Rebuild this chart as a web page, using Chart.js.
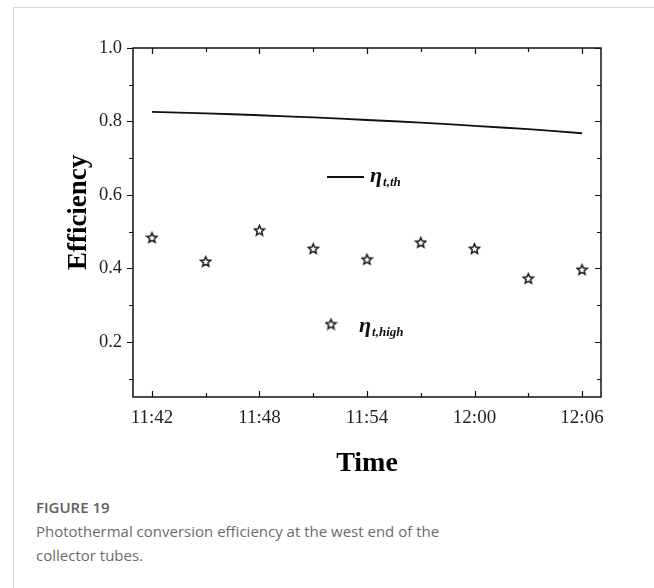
<!DOCTYPE html>
<html>
<head>
<meta charset="utf-8">
<script src="https://cdn.jsdelivr.net/npm/chart.js@4/dist/chart.umd.min.js"></script>
<style>
  body { margin: 0; background: #fff; width: 654px; height: 588px; overflow: hidden; position: relative; }
  #card { position: absolute; left: 13px; top: 7px; right: 0; bottom: 0; border-left: 1px solid #d9d9d9; border-top: 1px solid #d9d9d9; }
  #wrap { position: absolute; left: 0; top: 0; width: 640px; height: 480px; }
  .cap { position: absolute; left: 22px; top: 487px; font-family: "Open Sans", sans-serif; font-size: 15px; line-height: 24px; color: #6b6b6b; }
  .cap b { font-weight: 600; color: #5e5e5e; }
</style>
</head>
<body>
<div id="card">
  <div id="wrap"><canvas id="chart"></canvas></div>
  <div class="cap"><b>FIGURE 19</b><br>Photothermal conversion efficiency at the west end of the<br>collector tubes.</div>
</div>
<script>
// sample times (every 3 minutes)
const timeLabels = ['11:42', '11:45', '11:48', '11:51', '11:54', '11:57', '12:00', '12:03', '12:06'];
// eta_t,th (line)
const etaTh = [0.826, 0.822, 0.817, 0.811, 0.804, 0.797, 0.788, 0.779, 0.768];
// eta_t,high (stars)
const etaHigh = [0.484, 0.419, 0.504, 0.454, 0.425, 0.471, 0.454, 0.373, 0.397];

const xTickLabels = ['11:42', '11:48', '11:54', '12:00', '12:06'];
const yTickValues = [0.2, 0.4, 0.6, 0.8, 1.0];
const yMinorValues = [0.1, 0.3, 0.5, 0.7, 0.9];

// minutes after 11:42
const toMin = s => {
    const [h, m] = s.split(':').map(Number);
    return h * 60 + m - (11 * 60 + 42);
};
const fromMin = v => {
    const t = 11 * 60 + 42 + Math.round(v);
    return Math.floor(t / 60) + ':' + String(t % 60).padStart(2, '0');
};

// outlined five-point star used as marker
function makeStar(size) {
    const c = document.createElement('canvas');
    c.width = size; c.height = size;
    const g = c.getContext('2d');
    const cx = size / 2, cy = size / 2 + 0.5, R = size / 2 - 1.2, r = R * 0.45;
    g.beginPath();
    for (let i = 0; i < 10; i++) {
        const rad = i % 2 === 0 ? R : r;
        const a = -Math.PI / 2 + i * Math.PI / 5;
        const px = cx + rad * Math.cos(a), py = cy + rad * Math.sin(a);
        if (i === 0) g.moveTo(px, py); else g.lineTo(px, py);
    }
    g.closePath();
    g.fillStyle = '#fff';
    g.fill();
    g.strokeStyle = '#111';
    g.lineWidth = 1.4;
    g.stroke();
    return c;
}
const star = makeStar(13);

const serif = '"Liberation Serif", "Times New Roman", serif';

// box + ticks: left ticks outward, others inward
const framePlugin = {
    id: 'frame',
    afterDraw(chart) {
        const { ctx, chartArea: a, scales: { x, y } } = chart;
        ctx.save();
        ctx.strokeStyle = '#111';
        ctx.lineWidth = 1.5;
        ctx.strokeRect(a.left, a.top, a.right - a.left, a.bottom - a.top);
        ctx.lineWidth = 1.2;
        ctx.beginPath();
        const majors = xTickLabels.map(toMin);
        timeLabels.map(toMin).forEach(m => {
            const px = Math.round(x.getPixelForValue(m)) + 0.5;
            const len = majors.includes(m) ? 6 : 4;
            ctx.moveTo(px, a.bottom); ctx.lineTo(px, a.bottom - len);
            ctx.moveTo(px, a.top); ctx.lineTo(px, a.top + len);
        });
        const yTicks = yTickValues.map(v => [v, 6]).concat(yMinorValues.map(v => [v, 4]));
        yTicks.forEach(([v, len]) => {
            const py = Math.round(y.getPixelForValue(v)) + 0.5;
            ctx.moveTo(a.left, py); ctx.lineTo(a.left - len, py);
            ctx.moveTo(a.right, py); ctx.lineTo(a.right - len, py);
        });
        ctx.stroke();
        ctx.restore();
    }
};

// in-plot legend
const legendPlugin = {
    id: 'inlineLegend',
    afterDraw(chart) {
        const { ctx, chartArea: a } = chart;
        ctx.save();
        ctx.fillStyle = '#111';
        ctx.strokeStyle = '#111';
        ctx.lineWidth = 1.8;
        ctx.beginPath();
        ctx.moveTo(a.left + 194, a.top + 129);
        ctx.lineTo(a.left + 231, a.top + 129);
        ctx.stroke();
        ctx.drawImage(star, a.left + 198 - star.width / 2, a.top + 276 - star.height / 2);
        const label = (x0, y0, sub) => {
            ctx.font = 'italic bold 22px ' + serif;
            ctx.fillText('η', x0, y0);
            const w = ctx.measureText('η').width;
            ctx.font = 'italic bold 13px ' + serif;
            ctx.fillText(sub, x0 + w + 1, y0 + 4);
        };
        label(a.left + 237, a.top + 134, 't,th');
        label(a.left + 226, a.top + 284, 't,high');
        ctx.restore();
    }
};

new Chart(
    document.getElementById('chart'),
    {
        type: 'line',
        data: {
            datasets: [
                {
                    label: 'η t,th',
                    data: timeLabels.map((t, i) => ({ x: toMin(t), y: etaTh[i] })),
                    borderColor: '#111',
                    borderWidth: 1.8,
                    pointRadius: 0,
                    tension: 0.3
                },
                {
                    label: 'η t,high',
                    data: timeLabels.map((t, i) => ({ x: toMin(t), y: etaHigh[i] })),
                    showLine: false,
                    pointStyle: star,
                    pointRadius: 6
                }
            ]
        },
        options: {
            responsive: true,
            maintainAspectRatio: false,
            animation: false,
            layout: { padding: { top: 40, right: 53, left: 0, bottom: 0 } },
            plugins: { legend: { display: false }, tooltip: { enabled: false } },
            scales: {
                x: {
                    type: 'linear',
                    min: -1.06,
                    max: 25.06,
                    afterBuildTicks: s => { s.ticks = xTickLabels.map(t => ({ value: toMin(t) })); },
                    afterFit: s => { s.height = 91; },
                    grid: { display: false, drawTicks: false, tickLength: 0 },
                    border: { display: false },
                    ticks: {
                        padding: 10,
                        color: '#222',
                        font: { family: serif, size: 19 },
                        callback: v => fromMin(v)
                    },
                    title: {
                        display: true,
                        text: 'Time',
                        color: '#000',
                        font: { family: serif, size: 28, weight: 'bold' },
                        padding: { bottom: 7 }
                    }
                },
                y: {
                    min: 0.05,
                    max: 1.0,
                    afterBuildTicks: s => { s.ticks = yTickValues.map(v => ({ value: v })); },
                    afterFit: s => { s.width = 119; },
                    grid: { display: false, drawTicks: false, tickLength: 0 },
                    border: { display: false },
                    ticks: {
                        padding: 11,
                        color: '#222',
                        font: { family: serif, size: 18.5 },
                        callback: v => v.toFixed(1)
                    },
                    title: {
                        display: true,
                        text: '   Efficiency',
                        color: '#000',
                        font: { family: serif, size: 27, weight: 'bold' },
                        padding: { top: 49 }
                    }
                }
            }
        },
        plugins: [framePlugin, legendPlugin]
    }
);
</script>
</body>
</html>
